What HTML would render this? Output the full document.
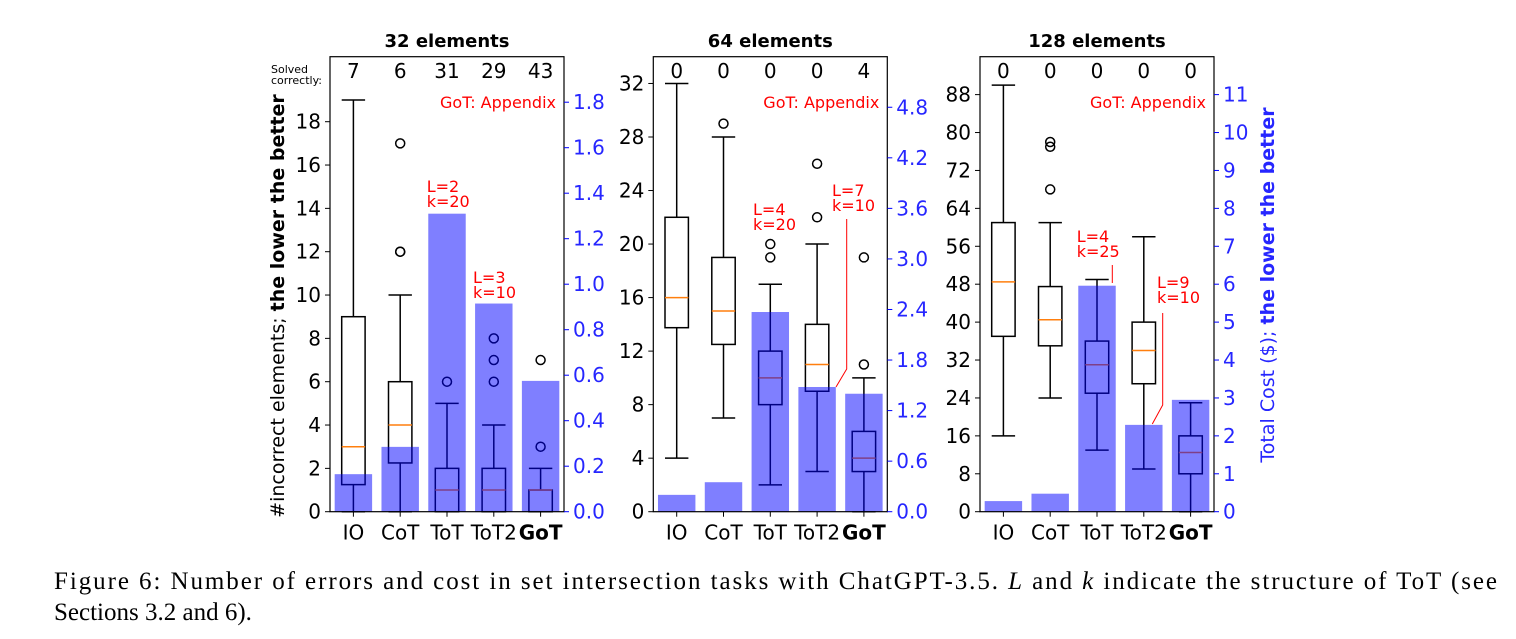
<!DOCTYPE html>
<html><head><meta charset="utf-8">
<style>
html,body{margin:0;padding:0;background:#fff;}
svg{display:block;}
text{font-family:"DejaVu Sans","Liberation Sans",sans-serif;}
.cap{font-family:"Liberation Serif",serif;font-size:25px;fill:#000;}
</style></head>
<body>
<svg id="fig" width="1516" height="639" viewBox="0 0 1516 639" xmlns="http://www.w3.org/2000/svg">
<text class="cap" x="54" y="589" textLength="1443" lengthAdjust="spacing">Figure 6: Number of errors and cost in set intersection tasks with ChatGPT-3.5. <tspan font-style="italic">L</tspan> and <tspan font-style="italic">k</tspan> indicate the structure of ToT (see</text>
<text class="cap" x="54" y="620">Sections 3.2 and 6).</text>
</svg>
<script>
const categories = ["IO","CoT","ToT","ToT2","GoT"];
const titles = ["32 elements","64 elements","128 elements"];
const solved1 = [7,6,31,29,43];
const solved2 = [0,0,0,0,4];
const solved3 = [0,0,0,0,0];
// box stats: [whislo, q1, med, q3, whishi]
const boxes1 = [[0,1.25,3,9,19],[0,2.25,4,6,10],[0,0,1,2,5],[0,0,1,2,4],[0,0,1,1,2]];
const fliers1 = [[],[12,12,17],[6],[6,7,8],[3,7]];
const boxes2 = [[4,13.75,16,22,32],[7,12.5,15,19,28],[2,8,10,12,17],[3,9,11,14,20],[0,3,4,6,10]];
const fliers2 = [[],[29],[19,20],[22,26],[11,19]];
const boxes3 = [[16,37,48.5,61,90],[24,35,40.5,47.5,61],[13,25,31,36,49],[9,27,34,40,58],[0,8,12.5,16,23]];
const fliers3 = [[],[68,77,78],[],[],[]];
const cost1 = [0.165,0.285,1.31,0.915,0.575];
const cost2 = [0.2,0.35,2.37,1.48,1.4];
const cost3 = [0.28,0.475,5.96,2.29,2.95];
const leftTicks1 = [0,2,4,6,8,10,12,14,16,18];
const leftTicks2 = [0,4,8,12,16,20,24,28,32];
const leftTicks3 = [0,8,16,24,32,40,48,56,64,72,80,88];
const rightTicks1 = ["0.0","0.2","0.4","0.6","0.8","1.0","1.2","1.4","1.6","1.8"];
const rightTicks2 = ["0.0","0.6","1.2","1.8","2.4","3.0","3.6","4.2","4.8"];
const rightTicks3 = ["0","1","2","3","4","5","6","7","8","9","10","11"];

const NS="http://www.w3.org/2000/svg";
const svg=document.getElementById('fig');
function mk(tag,attrs,parent,txt){const e=document.createElementNS(NS,tag);for(const k in attrs)e.setAttribute(k,attrs[k]);if(txt!==undefined)e.textContent=txt;(parent||svg).appendChild(e);return e;}

const panels=[
 {x0:330,boxes:boxes1,fliers:fliers1,cost:cost1,solved:solved1,lmax:21,rmax:2.0,lt:leftTicks1,rt:rightTicks1,
  ann:[{i:2,lines:["L=2","k=20"],tx:426.7,ty:192}, {i:3,lines:["L=3","k=10"],tx:473,ty:283}]},
 {x0:653.3,boxes:boxes2,fliers:fliers2,cost:cost2,solved:solved2,lmax:34,rmax:5.4,lt:leftTicks2,rt:rightTicks2,
  ann:[{i:2,lines:["L=4","k=20"],tx:753,ty:215},{i:3,lines:["L=7","k=10"],tx:832,ty:196,line:[[846.7,219],[846.7,369],[836,387]]}]},
 {x0:980,boxes:boxes3,fliers:fliers3,cost:cost3,solved:solved3,lmax:96,rmax:12,lt:leftTicks3,rt:rightTicks3,
  ann:[{i:2,lines:["L=4","k=25"],tx:1076.7,ty:242,line:[[1112.3,265],[1112.3,283]]},{i:3,lines:["L=9","k=10"],tx:1157,ty:288,line:[[1162.7,313],[1162.7,405],[1152.3,424]]}]}
];
const Y0=511.7, YT=56.7, W=234, H=Y0-YT;

panels.forEach((p,pi)=>{
  const g=mk('g',{});
  
  
  const sx=i=>p.x0+(i+0.5)*W/5;
  const yl=v=>Y0-v/p.lmax*H;
  const yr=v=>Y0-v/p.rmax*H;
  const bw=W/5*0.5, barw=W/5*0.8;
  const t=mk('text',{x:p.x0+W/2,y:47,'text-anchor':'middle','font-size':18,'font-weight':'bold'},g,titles[pi]);
  
  
  p.boxes.forEach((b,i)=>{
    const cx=sx(i);
    const bg=mk('g',{},g);
    
    
    mk('line',{x1:cx,x2:cx,y1:yl(b[0]),y2:yl(b[1]),stroke:'#000','stroke-width':1.5},bg);
    mk('line',{x1:cx,x2:cx,y1:yl(b[3]),y2:yl(b[4]),stroke:'#000','stroke-width':1.5},bg);
    mk('line',{x1:cx-bw/2,x2:cx+bw/2,y1:yl(b[0]),y2:yl(b[0]),stroke:'#000','stroke-width':1.5},bg);
    mk('line',{x1:cx-bw/2,x2:cx+bw/2,y1:yl(b[4]),y2:yl(b[4]),stroke:'#000','stroke-width':1.5},bg);
    mk('rect',{x:cx-bw/2,y:yl(b[3]),width:bw,height:Math.max(0,yl(b[1])-yl(b[3])),fill:'none',stroke:'#000','stroke-width':1.5},bg);
    mk('line',{x1:cx-bw/2,x2:cx+bw/2,y1:yl(b[2]),y2:yl(b[2]),stroke:'#ff7f0e','stroke-width':1.5},bg);
    p.fliers[i].forEach(f=>{
      const c=mk('circle',{cx:cx,cy:yl(f),r:4.5,fill:'none',stroke:'#000','stroke-width':1.5},bg);
      
      
    });
  });
  p.cost.forEach((c,i)=>{
    const r=mk('rect',{x:sx(i)-barw/2,y:yr(c),width:barw,height:Y0-yr(c),fill:'#0000ff','fill-opacity':0.5},g);
    
    
  });
  const fr=mk('rect',{x:p.x0,y:YT,width:W,height:H,fill:'none',stroke:'#000','stroke-width':1.2},g);
  
  
  p.lt.forEach(v=>{
    mk('line',{x1:p.x0-5,x2:p.x0,y1:yl(v),y2:yl(v),stroke:'#000','stroke-width':1},g);
    const tl=mk('text',{x:p.x0-9,y:yl(v)+7,'text-anchor':'end','font-size':20},g,String(v));
    
    
  });
  p.rt.forEach(s=>{
    const v=parseFloat(s);
    mk('line',{x1:p.x0+W,x2:p.x0+W+5,y1:yr(v),y2:yr(v),stroke:'#0000ff','stroke-width':1},g);
    const tl=mk('text',{x:p.x0+W+9,y:yr(v)+7,'font-size':20,fill:'#2626ff'},g,s);
    
    
  });
  categories.forEach((c,i)=>{
    mk('line',{x1:sx(i),x2:sx(i),y1:Y0,y2:Y0+5,stroke:'#000','stroke-width':1},g);
    const tl=mk('text',{x:sx(i),y:Y0+28,'text-anchor':'middle','font-size':20,'font-weight':c==='GoT'?'bold':'normal'},g,c);
    
    
  });
  p.solved.forEach((s,i)=>{
    const tl=mk('text',{x:sx(i),y:78,'text-anchor':'middle','font-size':20},g,String(s));
    
    
  });
  const ap=mk('text',{x:p.x0+W-8,y:108,'text-anchor':'end','font-size':16,fill:'#ff0000'},g,'GoT: Appendix');
  
  
  p.ann.forEach(a=>{
    a.lines.forEach((l,k)=>{
      const tl=mk('text',{x:a.tx,y:a.ty+k*15,'font-size':16,fill:'#ff0000'},g,l);
      
      
    });
    if(a.line){
      const pl=mk('polyline',{points:a.line.map(q=>q.join(',')).join(' '),fill:'none',stroke:'#ff0000','stroke-width':1},g);
      
      
    }
  });
});
const s1=mk('text',{x:271,y:73,'font-size':11},undefined,'Solved');


const s2=mk('text',{x:271,y:84,'font-size':11},undefined,'correctly:');


const yl1=mk('text',{x:0,y:0,'font-size':19,'text-anchor':'middle',transform:'translate(284,306) rotate(-90)'});


yl1.innerHTML='#incorrect elements; <tspan font-weight="bold">the lower the better</tspan>';
const yl2=mk('text',{x:0,y:0,'font-size':19,'text-anchor':'middle',fill:'#2626ff',transform:'translate(1274,285) rotate(-90)'});


yl2.innerHTML='Total Cost ($); <tspan font-weight="bold">the lower the better</tspan>';
</script>
</body></html>
